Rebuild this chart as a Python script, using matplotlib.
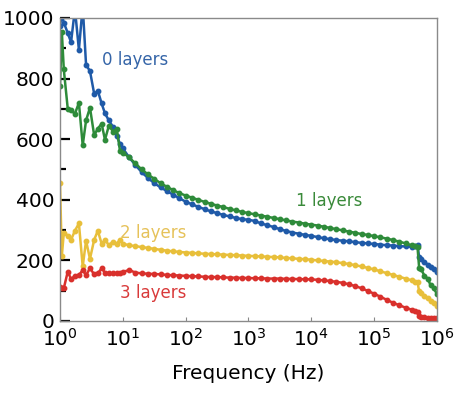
import numpy as np
import matplotlib.pyplot as plt

# shared frequency grid (Hz)
freq = [1.0, 1.07, 1.15, 1.33, 1.5, 1.73, 2.0, 2.3, 2.6, 3.0, 3.5, 4.0, 4.6, 5.2, 6.0, 7.0, 8.0, 9.0,
        10, 12.6, 15.8, 20, 25.1, 31.6, 39.8, 50.1, 63.1, 79.4,
        100, 126, 158, 200, 251, 316, 398, 501, 631, 794,
        1e3, 1.26e3, 1.58e3, 2e3, 2.51e3, 3.16e3, 3.98e3, 5.01e3, 6.31e3, 7.94e3,
        1e4, 1.26e4, 1.58e4, 2e4, 2.51e4, 3.16e4, 3.98e4, 5.01e4, 6.31e4, 7.94e4,
        1e5, 1.26e5, 1.58e5, 2e5, 2.51e5, 3.16e5, 3.98e5, 4.5e5, 4.9e5, 5.2e5, 5.6e5, 6.3e5,
        7.1e5, 7.9e5, 8.9e5, 1e6]

layers0 = [975, 1010, 985, 950, 920, 1030, 895, 1040, 845, 825, 750, 760, 718, 685, 662, 640, 612, 585,
           570, 540, 515, 491, 472, 455, 441, 429, 417, 405,
           394, 385, 377, 369, 362, 356, 350, 345, 340, 336,
           334, 330, 322, 316, 310, 303, 297, 292, 288, 284,
           281, 277, 273, 270, 267, 265, 263, 260, 258, 256,
           254, 252, 250, 249, 247, 246, 245, 246, 250, 210, 205, 196,
           186, 178, 170, 162]

layers1 = [775, 955, 830, 700, 695, 684, 720, 580, 662, 704, 613, 635, 651, 598, 645, 625, 635, 562,
           556, 540, 520, 500, 484, 469, 455, 443, 432, 422,
           414, 407, 400, 393, 387, 381, 376, 370, 365, 360,
           356, 352, 348, 344, 340, 336, 332, 328, 325, 321,
           318, 315, 311, 307, 303, 299, 295, 291, 287, 284,
           280, 276, 272, 267, 262, 256, 250, 246, 243, 175, 170, 150,
           140, 118, 108, 88]

layers2 = [455, 215, 290, 282, 268, 298, 322, 180, 265, 205, 268, 298, 255, 268, 250, 262, 255, 268,
           255, 250, 247, 244, 241, 238, 235, 232, 230, 228,
           226, 225, 223, 222, 221, 220, 219, 218, 217, 216,
           215, 214, 213, 212, 211, 210, 208, 207, 205, 204,
           202, 200, 198, 196, 194, 191, 188, 184, 180, 175,
           170, 164, 158, 152, 146, 140, 134, 130, 128, 98, 92, 84,
           75, 66, 58, 50]

layers3 = [113, 110, 108, 163, 138, 149, 151, 168, 151, 174, 154, 157, 174, 160, 158, 157, 158, 160,
           162, 168, 160, 157, 156, 155, 154, 152, 151, 150,
           149, 148, 147, 146, 145, 145, 144, 143, 143, 142,
           142, 141, 141, 140, 140, 140, 139, 139, 138, 138,
           137, 136, 134, 132, 129, 126, 121, 115, 108, 99,
           90, 80, 70, 60, 52, 44, 37, 32, 30, 16, 14, 12,
           11, 10, 10, 10]

labels = ['0 layers', '1 layers', '2 layers', '3 layers']
line_colors = ['#1f5aa8', '#2e8b3a', '#e8bf3a', '#d9302c']
text_colors = ['#3565a8', '#3a8a3a', '#e6c25a', '#d93a3a']
label_pos = [(4.6, 861), (5700, 397), (9.0, 291), (9.0, 93)]

fig = plt.figure(figsize=(4.6, 3.98), dpi=100)
ax = fig.add_axes([0.1304, 0.1935, 0.8196, 0.7613])

for vals, c in zip([layers0, layers1, layers2, layers3], line_colors):
    ax.plot(freq, vals, color=c, lw=1.8, marker='o', ms=3.2, mec=c, mfc=c)

for lab, c, (x, y) in zip(labels, text_colors, label_pos):
    ax.text(x, y, lab, color=c, fontsize=12, ha='left', va='center')

ax.set_xscale('log')
ax.set_xlim(1, 1e6)
ax.set_ylim(0, 1000)
ax.set_xticks([1, 1e1, 1e2, 1e3, 1e4, 1e5, 1e6])
ax.xaxis.set_minor_locator(plt.NullLocator())
ax.set_yticks([0, 200, 400, 600, 800, 1000])
ax.set_yticks([100, 300, 500, 700, 900], minor=True)

ax.tick_params(axis='y', which='major', direction='in', length=7, width=1.6,
               color='black', labelsize=14.5, pad=4)
ax.tick_params(axis='y', which='minor', direction='in', length=4, width=1.6, color='black')
ax.tick_params(axis='x', which='major', direction='in', length=3, width=0.8,
               color='#888888', labelsize=14.5, pad=5)

for s in ax.spines.values():
    s.set_color('#8a8a8a')
    s.set_linewidth(1.0)

ax.set_xlabel('Frequency (Hz)', fontsize=14.5, labelpad=10)

fig.savefig('out.png', dpi=100)
